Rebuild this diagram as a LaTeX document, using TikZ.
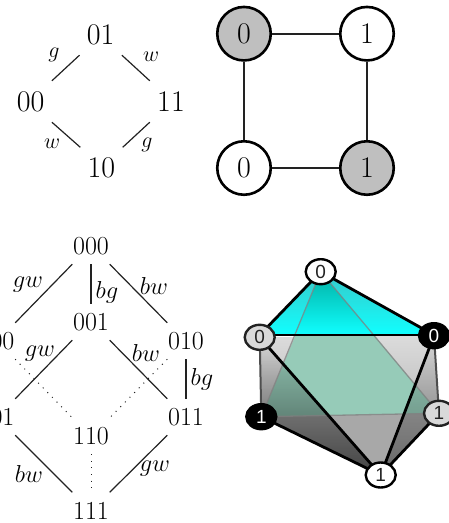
\documentclass[tikz,border=0pt]{standalone}
\usepackage{fix-cm}
\usepackage{fontspec}
\usetikzlibrary{backgrounds,fadings,shapes.geometric}
\newfontfamily\vertexfont{Liberation Sans}
\definecolor{ink}{HTML}{222222}
\definecolor{cyan-light}{HTML}{10FFFF}
\definecolor{cyan-side}{HTML}{38C8C8}
\definecolor{cyan-mid}{HTML}{00AFA2}
\definecolor{teal-face}{HTML}{96CBB8}
\tikzfading[name=fade-down, top color=transparent!100, bottom color=transparent!40]
\tikzfading[name=fade-light, top color=transparent!100, bottom color=transparent!62]
\begin{document}
\begin{tikzpicture}[x=1pt, y=-1pt]
        \tikzstyle{big-state}=[inner sep=0pt, minimum width=42pt, minimum height=41pt, font=\fontsize{30}{30}\selectfont]
        \tikzstyle{small-state}=[inner sep=0pt, minimum width=37pt, minimum height=36pt, font=\fontsize{26}{26}\selectfont]
        \tikzstyle{big-label}=[inner sep=0pt, font=\fontsize{22}{22}\selectfont]
        \tikzstyle{small-label}=[inner sep=0pt, font=\fontsize{24.5}{24.5}\selectfont]
        \tikzstyle{flip}=[ink, line width=1.2pt]
        \tikzstyle{hidden-flip}=[ink, line width=1pt, dash pattern=on 1pt off 5.6pt]
        \tikzstyle{white-spin}=[circle, line width=2.6pt, draw=black, fill=white, minimum size=53.5pt, inner sep=0pt, font=\fontsize{30}{30}\selectfont]
        \tikzstyle{gray-spin}=[white-spin, fill=gray!50]
        \tikzstyle{bond}=[ink, line width=2.2pt]
        \tikzstyle{oval}=[ellipse, line width=2.4pt, draw=black, minimum width=30pt, minimum height=25pt, inner sep=0pt, font=\vertexfont\fontsize{19}{19}\selectfont]
        \tikzstyle{vertex}=[oval, fill=white, text=ink]
        \tikzstyle{pale-vertex}=[oval, draw=ink, fill=gray!30, text=ink]
        \tikzstyle{dark-vertex}=[oval, fill=black, text=white]
        \tikzstyle{solid-edge}=[black, line width=2.8pt]
        \tikzstyle{back-edge}=[gray, line width=1.3pt, opacity=.75]

        \useasboundingbox (0, 0) rectangle (448, 523);

        % square lattice of two bits
        \node[big-state] (f-01) at (100.7, 34.5) {01};
        \node[big-state] (f-00) at (30.7, 101.5) {00};
        \node[big-state] (f-11) at (171, 101.5) {11};
        \node[big-state] (f-10) at (101.5, 168) {10};
        \draw[flip] (f-01.south west) -- (f-00.north east);
        \draw[flip] (f-01.south east) -- (f-11.north west);
        \draw[flip] (f-00.south east) -- (f-10.north west);
        \draw[flip] (f-11.south west) -- (f-10.north east);
        \node[big-label] (f-g1) at (54, 55) {$g$};
        \node[big-label] (f-w1) at (151, 57) {$w$};
        \node[big-label] (f-w2) at (52, 144) {$w$};
        \node[big-label] (f-g2) at (147, 145) {$g$};

        % colored square
        \node[gray-spin] (c-tl) at (244, 33.7) {0};
        \node[white-spin] (c-tr) at (367, 33.7) {1};
        \node[white-spin] (c-bl) at (244, 168) {0};
        \node[gray-spin] (c-br) at (367, 168) {1};
        \draw[bond] (c-tl) -- (c-tr);
        \draw[bond] (c-tr) -- (c-br);
        \draw[bond] (c-br) -- (c-bl);
        \draw[bond] (c-bl) -- (c-tl);

        % cube lattice of three bits
        \node[small-state] (s-000) at (91, 246) {000};
        \node[small-state] (s-001) at (91, 322) {001};
        \node[small-state] (s-100) at (-3.5, 341) {100};
        \node[small-state] (s-010) at (186, 341) {010};
        \node[small-state] (s-101) at (-3.5, 417) {101};
        \node[small-state] (s-011) at (186, 417) {011};
        \node[small-state] (s-110) at (91, 436) {110};
        \node[small-state, minimum height=0pt, text height=27pt, text depth=3pt, anchor=base] (s-111) at (91, 519.5) {111};
        \draw[flip] (s-000.south west) -- (s-100.north east);
        \draw[flip] (s-000.south) -- (s-001.north);
        \draw[flip] (s-000.south east) -- (s-010.north west);
        \draw[flip] (s-001.south west) -- (s-101.north east);
        \draw[flip] (s-001.south east) -- (s-011.north west);
        \draw[flip] (s-010.south) -- (s-011.north);
        \draw[flip] (s-101.south east) -- (s-111.north west);
        \draw[flip] (s-011.south west) -- (s-111.north east);
        \draw[hidden-flip] (s-100.south east) -- (s-110.north west);
        \draw[hidden-flip] (s-010.south west) -- (s-110.north east);
        \draw[hidden-flip] (s-110.south) -- (s-111.north);
        \node[small-label] (s-gw1) at (28, 285) {$gw$};
        \node[small-label] (s-bg1) at (107, 292) {$bg$};
        \node[small-label] (s-bw1) at (154, 286) {$bw$};
        \node[small-label] (s-gw2) at (40, 354) {$gw$};
        \node[small-label] (s-bw2) at (146, 353) {$bw$};
        \node[small-label] (s-bg2) at (202, 379) {$bg$};
        \node[small-label] (s-bw3) at (29, 474) {$bw$};
        \node[small-label] (s-gw3) at (155, 469) {$gw$};

        % octahedron
        \node[vertex] (o-top) at (320.7, 271.7) {0};
        \node[pale-vertex] (o-left) at (259.7, 337.3) {0};
        \node[dark-vertex] (o-right) at (434, 335.7) {0};
        \node[dark-vertex] (o-lower-left) at (261.3, 416.7) {1};
        \node[pale-vertex] (o-lower-right) at (439, 413.3) {1};
        \node[vertex] (o-bottom) at (380.7, 475) {1};
        \coordinate (o-cut-left) at (295.7, 335);
        \coordinate (o-cut-right) at (374, 335);
        \coordinate (o-rim-left) at (259.7, 335);
        \coordinate (o-rim-right) at (434, 335);
        \begin{pgfonlayer}{background}
            \shade[top color=gray!28, bottom color=gray!72]
                (o-left.center) -- (o-right.center) -- (o-lower-right.center)
                -- (o-bottom.center) -- (o-lower-left.center) -- cycle;
            \fill[teal-face] (o-cut-left) -- (o-cut-right) -- (o-lower-right.center)
                -- (o-lower-left.center) -- cycle;
            \fill[gray!68] (o-lower-left.center) -- (o-lower-right.center) -- (o-bottom.center) -- cycle;
            \fill[black, path fading=fade-down] (o-left.center) -- (o-lower-left.center) -- (o-bottom.center) -- cycle;
            \fill[black, path fading=fade-light] (o-right.center) -- (o-lower-right.center) -- (o-bottom.center) -- cycle;
            \shade[top color=cyan-side, bottom color=cyan-light]
                (o-top.center) -- (o-rim-left) -- (o-rim-right) -- cycle;
            \shade[top color=cyan-mid, bottom color=cyan-light]
                (o-top.center) -- (o-cut-left) -- (o-cut-right) -- cycle;
            \draw[back-edge] (o-top.center) -- (o-lower-left.center);
            \draw[back-edge] (o-top.center) -- (o-lower-right.center);
            \draw[back-edge] (o-lower-left.center) -- (o-lower-right.center);
            \draw[ink!80, line width=2pt] (o-left.center) -- (o-lower-left.center);
            \draw[ink!80, line width=2pt] (o-right.center) -- (o-lower-right.center);
            \draw[solid-edge] (o-top.center) -- (o-rim-left);
            \draw[solid-edge] (o-top.center) -- (o-rim-right);
            \draw[solid-edge] (o-rim-left) -- (o-rim-right);
            \draw[solid-edge] (o-left.center) -- (o-bottom.center);
            \draw[solid-edge] (o-right.center) -- (o-bottom.center);
            \draw[solid-edge] (o-lower-left.center) -- (o-bottom.center);
            \draw[solid-edge] (o-lower-right.center) -- (o-bottom.center);
        \end{pgfonlayer}
    \end{tikzpicture}
\end{document}
